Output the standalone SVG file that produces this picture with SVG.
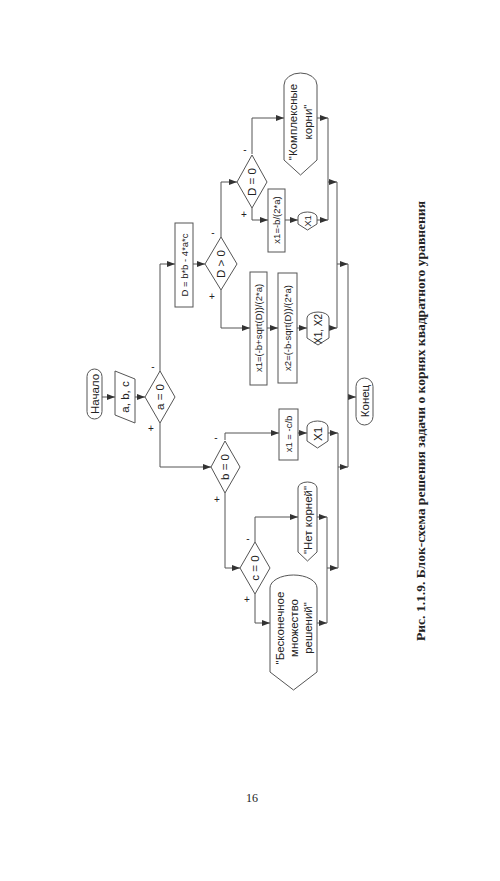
<svg xmlns="http://www.w3.org/2000/svg" width="500" height="881" viewBox="0 0 500 881">
<defs>
<style>
.s{fill:#fff;stroke:#555;stroke-width:1}
.c{fill:none;stroke:#555;stroke-width:1}
.t{font-family:"Liberation Sans",Arial,sans-serif;font-size:11.5px;fill:#222;text-anchor:middle;dominant-baseline:central}
.f{font-size:9.5px}
.l{font-family:"Liberation Sans",Arial,sans-serif;font-size:10px;fill:#222;text-anchor:middle;dominant-baseline:central}
.cap{font-family:"Liberation Serif","Times New Roman",serif;font-size:13px;font-weight:bold;fill:#222;text-anchor:middle;dominant-baseline:central}
</style>
<marker id="ar" markerWidth="8" markerHeight="6" refX="8" refY="3" orient="auto" markerUnits="userSpaceOnUse"><path d="M0,0 L8,3 L0,6 z" fill="#333"/></marker>
</defs>
<rect width="500" height="881" fill="#fff"/>

<g id="connectors" class="c" marker-end="url(#ar)">
<path d="M102,397 H115"/>
<path d="M135,397 H145"/>
<path d="M160,372 V264 H175"/>
<path d="M193,264 H205"/>
<path d="M221,237 V182 H237"/>
<path d="M252,154 V118 H284"/>
<path d="M252,208 V220 H268"/>
<path d="M285,220 H298"/>
<path d="M221,290 V328 H250"/>
<path d="M267,328 H278"/>
<path d="M297,328 H307"/>
<path d="M160,423 V467 H211"/>
<path d="M225,440 V433 H279"/>
<path d="M298,433 H307"/>
<path d="M225,493 V568 H240"/>
<path d="M255,542 V517 H298"/>
<path d="M255,594 V623 H270"/>
<path d="M317,118 H328"/>
<path d="M317,220 H328"/>
<path d="M328,182 H337"/>
<path d="M329,328 H337"/>
<path d="M337,264 H348"/>
<path d="M317,517 H327"/>
<path d="M317,623 H327"/>
<path d="M327,568 H338"/>
<path d="M328,433 H338"/>
<path d="M338,467 H348"/>
<path d="M348,397 H356"/>
<path d="M328,118 V220" marker-end="none"/>
<path d="M337,182 V328" marker-end="none"/>
<path d="M327,517 V623" marker-end="none"/>
<path d="M338,433 V568" marker-end="none"/>
<path d="M348,264 V467" marker-end="none"/>
</g>

<g id="start"><rect class="s" x="87" y="369" width="15" height="50" rx="7.5"/><text class="t" transform="translate(95,394) rotate(-90)">Начало</text></g>
<g id="input"><polygon class="s" points="115,371 135,379 135,423 115,415"/><text class="t" transform="translate(125,397) rotate(-90)">a, b, c</text></g>
<g id="cond_a"><polygon class="s" points="145,397 160,371 175,397 160,423"/><text class="t" transform="translate(160,397) rotate(-90)">a = 0</text><text class="l" x="153" y="366">-</text><text class="l" x="151" y="428">+</text></g>
<g id="calc_d"><rect class="s" x="175" y="223" width="18" height="84"/><text class="t f" transform="translate(184,265) rotate(-90)">D = b*b - 4*a*c</text></g>
<g id="cond_d_gt"><polygon class="s" points="205,264 221,237 237,264 221,290"/><text class="t" transform="translate(221,264) rotate(-90)">D &gt; 0</text><text class="l" x="213" y="232">-</text><text class="l" x="212" y="296">+</text></g>
<g id="cond_d_eq"><polygon class="s" points="237,182 252,155 267,182 252,208"/><text class="t" transform="translate(252,182) rotate(-90)">D = 0</text><text class="l" x="245" y="149">-</text><text class="l" x="244" y="214">+</text></g>
<g id="complex"><path class="s" d="M284,85 A16.5,12 0 0 1 317,85 L317,160 L300.5,175 L284,160 Z"/><text class="t" transform="translate(300.5,122) rotate(-90)"><tspan x="0" dy="-7.5">"Комплексные</tspan><tspan x="0" dy="15">корни"</tspan></text></g>
<g id="x1_single"><rect class="s" x="268" y="189" width="17" height="63"/><text class="t f" transform="translate(276.5,220) rotate(-90)">x1=-b/(2*a)</text></g>
<g id="out_x1_a"><path class="s" d="M298,217 A9.5,5 0 0 1 317,217 L317,224 L307.5,230 L298,224 Z"/><text class="t f" transform="translate(307.5,221) rotate(-90)">X1</text></g>
<g id="x1_calc"><rect class="s" x="250" y="272" width="17" height="113"/><text class="t f" transform="translate(258.5,328) rotate(-90)">x1=(-b+sqrt(D))/(2*a)</text></g>
<g id="x2_calc"><rect class="s" x="278" y="273" width="19" height="110"/><text class="t f" transform="translate(287.5,328) rotate(-90)">x2=(-b-sqrt(D))/(2*a)</text></g>
<g id="out_x1x2"><path class="s" d="M307,318 A11,6 0 0 1 329,318 L329,338 L318,345 L307,338 Z"/><text class="t" style="font-size:10px" transform="translate(318,329) rotate(-90)">X1, X2</text></g>
<g id="cond_b"><polygon class="s" points="211,467 225,441 240,467 225,493"/><text class="t" transform="translate(225,467) rotate(-90)">b = 0</text><text class="l" x="216" y="437">-</text><text class="l" x="217" y="499">+</text></g>
<g id="x1_linear"><rect class="s" x="279" y="409" width="19" height="51"/><text class="t f" transform="translate(288.5,434) rotate(-90)">x1 = -c/b</text></g>
<g id="out_x1_b"><path class="s" d="M307,427 A10.5,6 0 0 1 328,427 L328,441 L317.5,448 L307,441 Z"/><text class="t" transform="translate(317.5,434) rotate(-90)">X1</text></g>
<g id="cond_c"><polygon class="s" points="240,568 255,542 270,568 255,594"/><text class="t" transform="translate(255,568) rotate(-90)">c = 0</text><text class="l" x="248" y="538">-</text><text class="l" x="247" y="599">+</text></g>
<g id="no_roots"><path class="s" d="M298,488 A9.5,6 0 0 1 317,488 L317,552 L307.5,561 L298,552 Z"/><text class="t" transform="translate(307.5,520) rotate(-90)">"Нет корней"</text></g>
<g id="infinite"><path class="s" d="M270,588 A23.5,13 0 0 1 317,588 L317,672 L293.5,690 L270,672 Z"/><text class="t" transform="translate(294,628) rotate(-90)"><tspan x="0" dy="-14">"Бесконечное</tspan><tspan x="0" dy="14">множество</tspan><tspan x="0" dy="14">решений"</tspan></text></g>
<g id="end"><rect class="s" x="356" y="378" width="17" height="47" rx="8.5"/><text class="t" transform="translate(364.5,401) rotate(-90)">Конец</text></g>

<g id="caption"><text class="cap" transform="translate(420,421) rotate(-90)" textLength="440" lengthAdjust="spacingAndGlyphs">Рис. 1.1.9. Блок-схема решения задачи о корнях квадратного уравнения</text></g>
<text id="page" x="252" y="798" font-family="'Liberation Serif','Times New Roman',serif" font-size="12" fill="#222" text-anchor="middle" dominant-baseline="central">16</text>
</svg>
